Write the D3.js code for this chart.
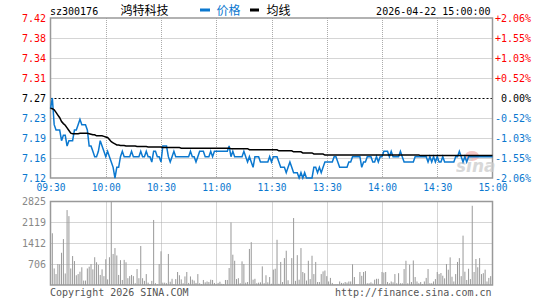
<!DOCTYPE html>
<html>
<head>
<meta charset="utf-8">
<script src="https://cdn.jsdelivr.net/npm/d3@7"></script>
<style>
    body { margin: 0; background: #fff; }
    svg { display: block; }
</style>
</head>
<body>
<div id="main"></div>
<script>
// minute labels along the bottom, one every 30 points
var timeLabels = ["09:30", "10:00", "10:30", "11:00", "11:30", "13:30", "14:00", "14:30", "15:00"];
var timeTickIndex = [0, 30, 60, 90, 120, 150, 180, 210, 240];

var prevClose = 7.27;
var priceTicks = [7.42, 7.3825, 7.345, 7.3075, 7.27, 7.2325, 7.195, 7.1575, 7.12];
var priceTickLabels = ["7.42", "7.38", "7.34", "7.31", "7.27", "7.23", "7.19", "7.16", "7.12"];
var pctTickLabels = ["+2.06%", "+1.55%", "+1.03%", "+0.52%", "0.00%", "-0.52%", "-1.03%", "-1.55%", "-2.06%"];

var volTicks = [2825, 2119, 1412, 706];
var volTickLabels = ["2825", "2119", "1412", "706"];

var prices = [
    7.25, 7.27, 7.22, 7.21, 7.21, 7.21, 7.19, 7.20, 7.20, 7.18,
    7.19, 7.19, 7.19, 7.21, 7.21, 7.22, 7.23, 7.22, 7.22, 7.22,
    7.21, 7.18, 7.18, 7.17, 7.16, 7.16, 7.17, 7.19, 7.18, 7.17,
    7.16, 7.17, 7.16, 7.15, 7.14, 7.12, 7.14, 7.14, 7.16, 7.17,
    7.16, 7.16, 7.16, 7.16, 7.17, 7.16, 7.16, 7.16, 7.16, 7.17,
    7.16, 7.16, 7.17, 7.16, 7.16, 7.15, 7.17, 7.17, 7.16, 7.16,
    7.15, 7.18, 7.18, 7.18, 7.16, 7.15, 7.16, 7.17, 7.16, 7.16,
    7.16, 7.16, 7.16, 7.16, 7.16, 7.16, 7.17, 7.16, 7.16, 7.15,
    7.16, 7.17, 7.17, 7.17, 7.16, 7.16, 7.16, 7.17, 7.16, 7.17,
    7.17, 7.17, 7.17, 7.17, 7.17, 7.17, 7.17, 7.18, 7.16, 7.17,
    7.16, 7.16, 7.16, 7.16, 7.16, 7.17, 7.16, 7.15, 7.16, 7.15,
    7.14, 7.16, 7.16, 7.16, 7.15, 7.15, 7.15, 7.15, 7.15, 7.16,
    7.15, 7.16, 7.16, 7.16, 7.15, 7.14, 7.14, 7.14, 7.13, 7.14,
    7.15, 7.14, 7.13, 7.13, 7.13, 7.12, 7.13, 7.12, 7.13, 7.12,
    7.12, 7.12, 7.12, 7.14, 7.14, 7.13, 7.14, 7.13, 7.14, 7.15,
    7.15, 7.15, 7.15, 7.15, 7.16, 7.16, 7.15, 7.14, 7.14, 7.14,
    7.14, 7.14, 7.15, 7.15, 7.16, 7.16, 7.16, 7.16, 7.16, 7.14,
    7.15, 7.15, 7.16, 7.16, 7.16, 7.15, 7.15, 7.16, 7.15, 7.16,
    7.16, 7.17, 7.17, 7.17, 7.16, 7.17, 7.16, 7.16, 7.16, 7.16,
    7.17, 7.16, 7.15, 7.15, 7.15, 7.15, 7.15, 7.15, 7.16, 7.16,
    7.16, 7.16, 7.16, 7.16, 7.16, 7.15, 7.16, 7.15, 7.16, 7.15,
    7.16, 7.15, 7.15, 7.16, 7.15, 7.15, 7.15, 7.15, 7.15, 7.15,
    7.16, 7.16, 7.17, 7.16, 7.15, 7.16, 7.15, 7.16, 7.16, 7.16,
    7.16, 7.16, 7.16, 7.16, 7.16, 7.16, 7.16, 7.16, 7.16, 7.16,
    7.16
];

var avgPrices = [
    7.251, 7.250, 7.248, 7.243, 7.238, 7.233, 7.226, 7.222, 7.219, 7.214,
    7.209, 7.204, 7.203, 7.203, 7.203, 7.203, 7.204, 7.204, 7.204, 7.204,
    7.204, 7.203, 7.202, 7.201, 7.201, 7.199, 7.199, 7.199, 7.199, 7.198,
    7.197, 7.196, 7.192, 7.188, 7.186, 7.184, 7.182, 7.182, 7.181, 7.181,
    7.181, 7.180, 7.180, 7.180, 7.180, 7.180, 7.180, 7.179, 7.179, 7.179,
    7.179, 7.179, 7.179, 7.178, 7.178, 7.178, 7.178, 7.178, 7.178, 7.178,
    7.178, 7.177, 7.177, 7.177, 7.177, 7.177, 7.177, 7.177, 7.177, 7.177,
    7.177, 7.176, 7.176, 7.176, 7.176, 7.176, 7.176, 7.176, 7.176, 7.176,
    7.176, 7.176, 7.176, 7.176, 7.176, 7.176, 7.176, 7.176, 7.176, 7.176,
    7.176, 7.176, 7.176, 7.176, 7.176, 7.176, 7.176, 7.176, 7.175, 7.175,
    7.175, 7.175, 7.175, 7.175, 7.175, 7.175, 7.175, 7.175, 7.173, 7.173,
    7.173, 7.173, 7.173, 7.173, 7.173, 7.173, 7.173, 7.173, 7.173, 7.173,
    7.173, 7.173, 7.173, 7.173, 7.171, 7.171, 7.171, 7.171, 7.171, 7.171,
    7.171, 7.171, 7.169, 7.169, 7.169, 7.169, 7.169, 7.167, 7.167, 7.167,
    7.167, 7.167, 7.167, 7.165, 7.165, 7.165, 7.165, 7.165, 7.165, 7.163,
    7.163, 7.163, 7.163, 7.163, 7.163, 7.163, 7.163, 7.163, 7.163, 7.163,
    7.163, 7.163, 7.163, 7.163, 7.163, 7.163, 7.163, 7.163, 7.163, 7.163,
    7.163, 7.163, 7.163, 7.163, 7.163, 7.163, 7.163, 7.163, 7.163, 7.163,
    7.163, 7.163, 7.163, 7.163, 7.163, 7.163, 7.163, 7.163, 7.163, 7.163,
    7.163, 7.163, 7.163, 7.163, 7.163, 7.163, 7.163, 7.163, 7.163, 7.163,
    7.163, 7.162, 7.162, 7.162, 7.162, 7.162, 7.162, 7.162, 7.162, 7.162,
    7.162, 7.162, 7.162, 7.162, 7.162, 7.162, 7.162, 7.162, 7.162, 7.162,
    7.162, 7.162, 7.162, 7.162, 7.162, 7.162, 7.162, 7.162, 7.162, 7.162,
    7.162, 7.162, 7.162, 7.162, 7.162, 7.162, 7.162, 7.162, 7.162, 7.162,
    7.162
];

var volumes = [
    710, 1750, 560, 370, 710, 700, 1090, 1555, 390, 2535,
    2330, 560, 980, 810, 330, 370, 450, 600, 150, 150,
    560, 620, 710, 530, 940, 770, 680, 340, 530, 300,
    870, 190, 940, 2825, 1050, 1250, 1000, 340, 840, 170,
    850, 770, 230, 300, 340, 300, 60, 540, 230, 1320,
    230, 140, 370, 80, 30, 140, 2200, 60, 30, 710,
    1140, 80, 80, 60, 1050, 110, 210, 20, 200, 440,
    330, 190, 60, 290, 440, 70, 290, 180, 150, 70,
    370, 60, 30, 170, 90, 120, 100, 180, 170, 70,
    30, 70, 110, 40, 30, 170, 170, 575, 2119, 1025,
    820, 200, 230, 60, 800, 710, 80, 100, 1220, 1450,
    180, 210, 60, 80, 90, 630, 60, 330, 90, 270,
    40, 520, 550, 1530, 40, 780, 100, 910, 1160, 160,
    30, 910, 2265, 140, 1010, 180, 1250, 440, 400, 150,
    820, 200, 990, 370, 780, 100, 100, 370, 460, 490,
    300, 120, 240, 70, 20, 30, 30, 120, 70, 60,
    100, 80, 120, 120, 700, 270, 30, 30, 440, 310,
    440, 470, 60, 60, 90, 50, 180, 210, 210, 30,
    440, 420, 440, 100, 60, 120, 90, 370, 60, 400,
    60, 60, 540, 820, 60, 690, 100, 830, 270, 120,
    60, 100, 30, 120, 240, 540, 60, 60, 120, 200,
    440, 370, 405, 315, 225, 710, 518, 935, 280, 120,
    370, 780, 910, 300, 1670, 450, 170, 550, 200, 2680,
    440, 880, 600, 910, 370, 400, 520, 120, 240, 300,
    450
];

var chart = (function () {
    function chart(args) {
        if (!(this instanceof chart)) {
            return new chart(args);
        }
        this.initProperty();
        this.init();
    }

    chart.prototype.initProperty = function () {
        this.chartWidth = 545;
        this.chartHeight = 300;
        this.mono = "'DejaVu Sans Mono', monospace";
        this.cjk = "'Noto Sans CJK SC', sans-serif";
        this.red = "#ff0000";
        this.blue = "#0b78cf";
        this.gray = "#999999";

        this.chartSvg = d3.select('#main').append('svg')
            .attr('width', this.chartWidth).attr('height', this.chartHeight);

        this.plot = {left: 50.5, right: 492.5, top: 18, bottom: 178};
        this.volPlot = {top: 201.5, bottom: 285};

        this.xScale = d3.scaleLinear().domain([0, 240]).range([this.plot.left, this.plot.right]);
        this.yScale = d3.scaleLinear().domain([7.12, 7.42]).range([this.plot.bottom, this.plot.top]);
        this.vScale = d3.scaleLinear().domain([0, 2825]).range([this.volPlot.bottom, this.volPlot.top]);
    };

    chart.prototype.init = function () {
        this.chartSvg.append('rect').attr('width', this.chartWidth).attr('height', this.chartHeight).attr('fill', '#fff');
        this.drawGrid();
        this.drawLogo();
        this.drawVolume();
        this.drawPrice();
        this.drawAxis();
        this.drawTexts();
    };

    chart.prototype.drawGrid = function () {
        const that = this;
        var inner = timeTickIndex.slice(1, -1);
        var panels = [
            {top: this.plot.top, bottom: this.plot.bottom},
            {top: this.volPlot.top, bottom: this.volPlot.bottom}
        ];
        var g = this.chartSvg.append('g').attr('class', 'grid');

        panels.forEach(function (p) {
            g.selectAll(null).data(inner).enter().append('line')
                .attr('x1', function (d) { return Math.round(that.xScale(d)) + 0.5; })
                .attr('x2', function (d) { return Math.round(that.xScale(d)) + 0.5; })
                .attr('y1', p.top).attr('y2', p.bottom)
                .attr('stroke', '#aaa').attr('stroke-dasharray', '1,1');
        });

        g.selectAll(null).data(priceTicks.slice(1, -1)).enter().append('line')
            .attr('x1', this.plot.left).attr('x2', this.plot.right)
            .attr('y1', function (d) { return Math.round(that.yScale(d)) + 0.5; })
            .attr('y2', function (d) { return Math.round(that.yScale(d)) + 0.5; })
            .attr('stroke', function (d) { return d === prevClose ? '#000' : '#aaa'; })
            .attr('stroke-dasharray', function (d) { return d === prevClose ? '2,2' : '1,1'; });

        g.selectAll(null).data(volTicks.slice(1)).enter().append('line')
            .attr('x1', this.plot.left).attr('x2', this.plot.right)
            .attr('y1', function (d) { return Math.round(that.vScale(d)) + 0.5; })
            .attr('y2', function (d) { return Math.round(that.vScale(d)) + 0.5; })
            .attr('stroke', '#aaa').attr('stroke-dasharray', '1,1');

        panels.forEach(function (p) {
            g.append('rect')
                .attr('x', that.plot.left).attr('y', p.top)
                .attr('width', that.plot.right - that.plot.left)
                .attr('height', p.bottom - p.top)
                .attr('fill', 'none').attr('stroke', that.gray).attr('stroke-width', 1.5);
        });
    };

    chart.prototype.drawLogo = function () {
        // sina watermark
        var g = this.chartSvg.append('g').attr('opacity', 0.75);
        g.append('ellipse').attr('cx', 472).attr('cy', 156).attr('rx', 7).attr('ry', 5)
            .attr('fill', '#f3b3b3');
        g.append('text').attr('x', 456).attr('y', 172)
            .attr('font-family', "'DejaVu Sans', sans-serif").attr('font-size', 17)
            .attr('font-weight', 'bold').attr('font-style', 'italic')
            .attr('fill', '#cccccc').text('sina');
    };

    chart.prototype.drawVolume = function () {
        const that = this;
        this.chartSvg.append('g').selectAll('rect').data(volumes).enter().append('rect')
            .attr('x', function (d, i) { return that.xScale(i) - 0.5; })
            .attr('y', function (d) { return that.vScale(d); })
            .attr('width', 1)
            .attr('height', function (d) { return that.volPlot.bottom - that.vScale(d); })
            .attr('fill', this.gray);
    };

    chart.prototype.drawPrice = function () {
        const that = this;
        var line = d3.line()
            .x(function (d, i) { return that.xScale(i); })
            .y(function (d) { return that.yScale(d); });

        this.chartSvg.append('path').datum(prices)
            .attr('d', line).attr('fill', 'none')
            .attr('stroke', this.blue).attr('stroke-width', 1.5);

        this.chartSvg.append('path').datum(avgPrices)
            .attr('d', line).attr('fill', 'none')
            .attr('stroke', '#000').attr('stroke-width', 1.5);
    };

    chart.prototype.labelColor = function (d) {
        if (d > prevClose + 1e-9) return this.red;
        if (d < prevClose - 1e-9) return this.blue;
        return '#000';
    };

    chart.prototype.drawAxis = function () {
        const that = this;

        var left = d3.axisLeft(this.yScale).tickValues(priceTicks)
            .tickFormat(function (d, i) { return priceTickLabels[i]; })
            .tickSize(0).tickPadding(4);
        var gl = this.chartSvg.append('g').attr('transform', 'translate(50,0.5)').call(left)
            .attr('font-family', this.mono).attr('font-size', 10);
        gl.select('.domain').remove();
        gl.selectAll('text').attr('fill', function (d) { return that.labelColor(d); });

        var right = d3.axisRight(this.yScale).tickValues(priceTicks)
            .tickFormat(function (d, i) { return pctTickLabels[i]; })
            .tickSize(0).tickPadding(0);
        var gr = this.chartSvg.append('g').attr('transform', 'translate(492.5,0)').call(right)
            .attr('font-family', this.mono).attr('font-size', 10);
        gr.select('.domain').remove();
        gr.selectAll('text').attr('text-anchor', 'end').attr('x', 38.5)
            .attr('fill', function (d) { return that.labelColor(d); });

        var bottom = d3.axisBottom(this.xScale).tickValues(timeTickIndex)
            .tickFormat(function (d, i) { return timeLabels[i]; })
            .tickSize(0).tickPadding(6.3);
        var gb = this.chartSvg.append('g').attr('transform', 'translate(0,178)').call(bottom)
            .attr('font-family', this.mono).attr('font-size', 9.6);
        gb.select('.domain').remove();
        gb.selectAll('text').attr('fill', this.blue);

        var vol = d3.axisLeft(this.vScale).tickValues(volTicks)
            .tickFormat(function (d, i) { return volTickLabels[i]; })
            .tickSize(0).tickPadding(4);
        var gv = this.chartSvg.append('g').attr('transform', 'translate(50,0)').call(vol)
            .attr('font-family', this.mono).attr('font-size', 10);
        gv.select('.domain').remove();
        gv.selectAll('text').attr('fill', '#888');
    };

    chart.prototype.drawTexts = function () {
        var svg = this.chartSvg;
        svg.append('text').attr('x', 50).attr('y', 15)
            .attr('font-family', this.mono).attr('font-size', 10).attr('fill', '#000')
            .text('sz300176');
        svg.append('text').attr('x', 120.5).attr('y', 15)
            .attr('font-family', this.cjk).attr('font-size', 12).attr('fill', '#000')
            .text('鸿特科技');

        svg.append('rect').attr('x', 200).attr('y', 8.5).attr('width', 10).attr('height', 3).attr('fill', this.blue);
        svg.append('text').attr('x', 216.5).attr('y', 15)
            .attr('font-family', this.cjk).attr('font-size', 12).attr('fill', this.blue)
            .text('价格');
        svg.append('rect').attr('x', 250).attr('y', 8.5).attr('width', 9).attr('height', 3).attr('fill', '#000');
        svg.append('text').attr('x', 266.5).attr('y', 15)
            .attr('font-family', this.cjk).attr('font-size', 12).attr('fill', '#000')
            .text('均线');

        svg.append('text').attr('x', 490.5).attr('y', 15).attr('text-anchor', 'end')
            .attr('font-family', this.mono).attr('font-size', 10).attr('fill', '#000')
            .text('2026-04-22 15:00:00');

        svg.append('text').attr('x', 50).attr('y', 296)
            .attr('font-family', this.mono).attr('font-size', 10).attr('fill', '#555')
            .text('Copyright 2026 SINA.COM');
        svg.append('text').attr('x', 491.5).attr('y', 296).attr('text-anchor', 'end')
            .attr('font-family', this.mono).attr('font-size', 10).attr('fill', '#555')
            .text('http://finance.sina.com.cn');
    };

    return chart;
})();

chart();
</script>
</body>
</html>
